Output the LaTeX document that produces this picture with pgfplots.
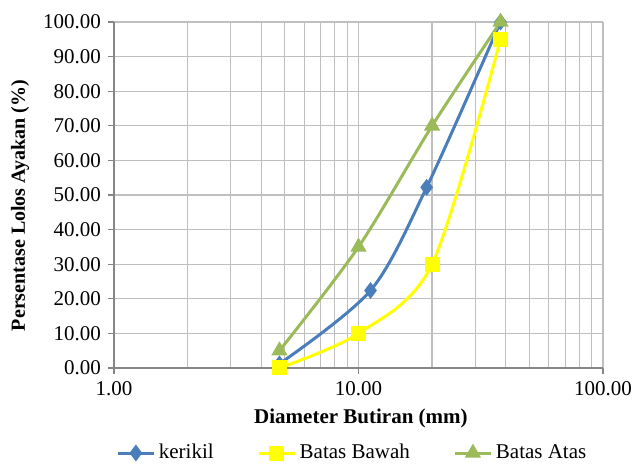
\documentclass[border=0pt]{standalone}
\usepackage{fontspec}
\setmainfont{Liberation Serif}
\usepackage{pgfplots}
\pgfplotsset{compat=1.18}

\definecolor{kblue}{HTML}{4A7EBB}
\definecolor{kyellow}{HTML}{FFFF00}
\definecolor{kgreen}{HTML}{9BBB59}
\definecolor{gridgray}{HTML}{BFBFBF}
\definecolor{axgray}{HTML}{868686}

\begin{document}
\begin{tikzpicture}
\begin{axis}[
    name=main,
    xmode=log,
    scale only axis,
    width=244.5pt, height=173pt,
    xmin=1, xmax=100, ymin=0, ymax=100,
    xtick={1,10,100},
    xticklabels={1.00,10.00,100.00},
    ytick={0,10,20,30,40,50,60,70,80,90,100},
    yticklabels={0.00,10.00,20.00,30.00,40.00,50.00,60.00,70.00,80.00,90.00,100.00},
    grid=both,
    major grid style={gridgray, line width=0.6pt},
    minor grid style={gridgray, line width=0.6pt},
    axis lines=left,
    axis line style={axgray, line width=0.6pt, -},
    tick style={axgray, line width=0.6pt},
    tick align=outside,
    major tick length=3pt,
    minor tick length=0pt,
    ticklabel style={font=\fontsize{10.5}{12}\selectfont},
    xlabel={Diameter Butiran (mm)},
    ylabel={Persentase Lolos Ayakan (\%)},
    xlabel style={font=\fontsize{10.5}{12}\selectfont\bfseries,
        at={(axis description cs:0.505,-0.1445)}, anchor=center},
    ylabel style={font=\fontsize{10}{12}\selectfont\bfseries,
        at={(axis description cs:-0.192,0.47)}, anchor=center},
    legend columns=3,
    legend style={draw=none, fill=none,
        font=\fontsize{10.5}{12}\selectfont,
        at={(axis description cs:0.49,-0.2457)}, anchor=center,
        /tikz/every even column/.append style={column sep=20pt}},
    legend image code/.code={
        \draw[#1, mark repeat=2, mark phase=2]
            plot coordinates {(0pt,0pt) (8.75pt,0pt) (17.5pt,0pt)};
    },
    every axis plot/.append style={line width=1.5pt, smooth, tension=0.5},
]

% kerikil
\addplot[kblue, mark=diamond*, mark size=3pt, mark options={solid, fill=kblue}]
    coordinates {(4.75,1.2) (11.2,22.4) (19.0,52.2) (38.1,100)};
\addlegendentry{kerikil}

% Batas Bawah
\addplot[kyellow, mark=square*, mark size=3pt, mark options={solid, fill=kyellow}]
    coordinates {(4.75,0) (10,10) (20,30) (38.1,95)};
\addlegendentry{Batas Bawah}

% Batas Atas
\addplot[kgreen, mark=triangle*, mark size=3.2pt, mark options={solid, fill=kgreen}]
    coordinates {(4.75,5) (10,35) (20,70) (38.1,100)};
\addlegendentry{Batas Atas}

\end{axis}
\pgfresetboundingbox
\useasboundingbox (main.south west) ++(-57pt,-49.5pt) rectangle ([shift={(16pt,11pt)}]main.north east);
\end{tikzpicture}
\end{document}
